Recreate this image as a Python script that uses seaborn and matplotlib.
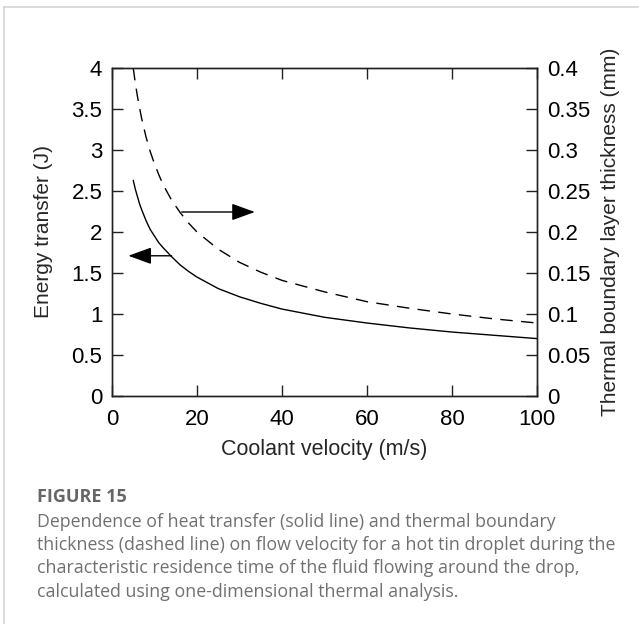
import numpy as np
import matplotlib.pyplot as plt
from matplotlib.lines import Line2D
import seaborn as sns

# values
velocity = [5, 5.5, 6, 6.5, 7, 8, 9, 10, 11, 12, 14, 16, 18, 20,
            25, 30, 35, 40, 50, 60, 70, 80, 90, 100]
energy = [2.63, 2.52, 2.43, 2.34, 2.27, 2.14, 2.03, 1.95, 1.87, 1.81, 1.70, 1.60, 1.52, 1.45,
          1.31, 1.21, 1.13, 1.06, 0.96, 0.89, 0.83, 0.78, 0.74, 0.70]
thickness = [0.400, 0.381, 0.365, 0.351, 0.338, 0.316, 0.298, 0.283, 0.270, 0.258,
             0.239, 0.224, 0.211, 0.200, 0.179, 0.163, 0.151, 0.141, 0.127, 0.115,
             0.107, 0.100, 0.094, 0.089]

left_ticks = [0, 0.5, 1, 1.5, 2, 2.5, 3, 3.5, 4]
left_labels = ['0', '0.5', '1', '1.5', '2', '2.5', '3', '3.5', '4']
right_ticks = [0, 0.05, 0.1, 0.15, 0.2, 0.25, 0.3, 0.35, 0.4]
right_labels = ['0', '0.05', '0.1', '0.15', '0.2', '0.25', '0.3', '0.35', '0.4']
x_ticks = [0, 20, 40, 60, 80, 100]

# arrows (velocity, energy-axis value): start on the curve, tip
arrow_right = [(16.4, 2.244), (33.6, 2.244)]
arrow_left = [(14.0, 1.71), (3.85, 1.71)]

caption_title = 'FIGURE 15'
caption_lines = [
    'Dependence of heat transfer (solid line) and thermal boundary',
    'thickness (dashed line) on flow velocity for a hot tin droplet during the',
    'characteristic residence time of the fluid flowing around the drop,',
    'calculated using one-dimensional thermal analysis.',
]

sns.set_style('white')
plt.rcParams['font.family'] = ['Liberation Sans', 'DejaVu Sans']

W, H = 639, 624
fig = plt.figure(figsize=(W / 100, H / 100), dpi=100)
ax = fig.add_axes([112 / W, 1 - 396 / H, 425 / W, 328 / H])
ax2 = ax.twinx()

sns.lineplot(x=velocity, y=energy, ax=ax, color='black', lw=1.0)
sns.lineplot(x=velocity, y=thickness, ax=ax2, color='black', lw=1.0,
             linestyle=(0, (9, 6)))

ax.set_xlim(0, 100)
ax.set_ylim(0, 4)
ax2.set_ylim(0, 0.4)
ax.set_xticks(x_ticks)
ax.set_xticklabels([str(t) for t in x_ticks])
ax.set_yticks(left_ticks)
ax.set_yticklabels(left_labels)
ax2.set_yticks(right_ticks)
ax2.set_yticklabels(right_labels)

tick_kw = dict(direction='in', length=8, width=1, labelsize=16,
               color='#222222', labelcolor='black')
ax.tick_params(axis='x', top=True, bottom=True, pad=9.5, **tick_kw)
ax.tick_params(axis='y', left=True, right=False, pad=7, **tick_kw)
ax2.tick_params(axis='y', left=False, right=True, pad=7, **tick_kw)

for a in (ax, ax2):
    for s in a.spines.values():
        s.set_color('#222222')
        s.set_linewidth(1.0)

ax.set_xlabel('Coolant velocity (m/s)', fontsize=15.5, labelpad=6)
ax.set_ylabel('Energy transfer (J)', fontsize=15, labelpad=13)
ax2.set_ylabel('Thermal boundary layer thickness (mm)', fontsize=15, labelpad=8)

arrow_kw = dict(arrowstyle='-|>,head_length=1.1,head_width=0.4', mutation_scale=13,
                color='black', lw=1.0, shrinkA=0, shrinkB=0)
for start, tip in (arrow_right, arrow_left):
    ax.annotate('', xy=tip, xytext=start, arrowprops=arrow_kw)

# caption block below the chart
cap_font = ['Open Sans', 'DejaVu Sans']
fig.text(37 / W, 1 - 501.7 / H, caption_title, family=cap_font, fontweight='bold',
         fontsize=13, color='#666666', va='baseline', ha='left')
for i, line in enumerate(caption_lines):
    fig.text(37 / W, 1 - (526.7 + 23.3 * i) / H, line, family=cap_font,
             fontsize=12.8, color='#707070', va='baseline', ha='left')

# light frame lines of the figure card
fig.add_artist(Line2D([4 / W, 1], [1 - 7 / H, 1 - 7 / H], color='#d5d5d5', lw=1.2))
fig.add_artist(Line2D([4 / W, 4 / W], [0, 1 - 7 / H], color='#d5d5d5', lw=1.2))

plt.savefig('out.png', dpi=100)
